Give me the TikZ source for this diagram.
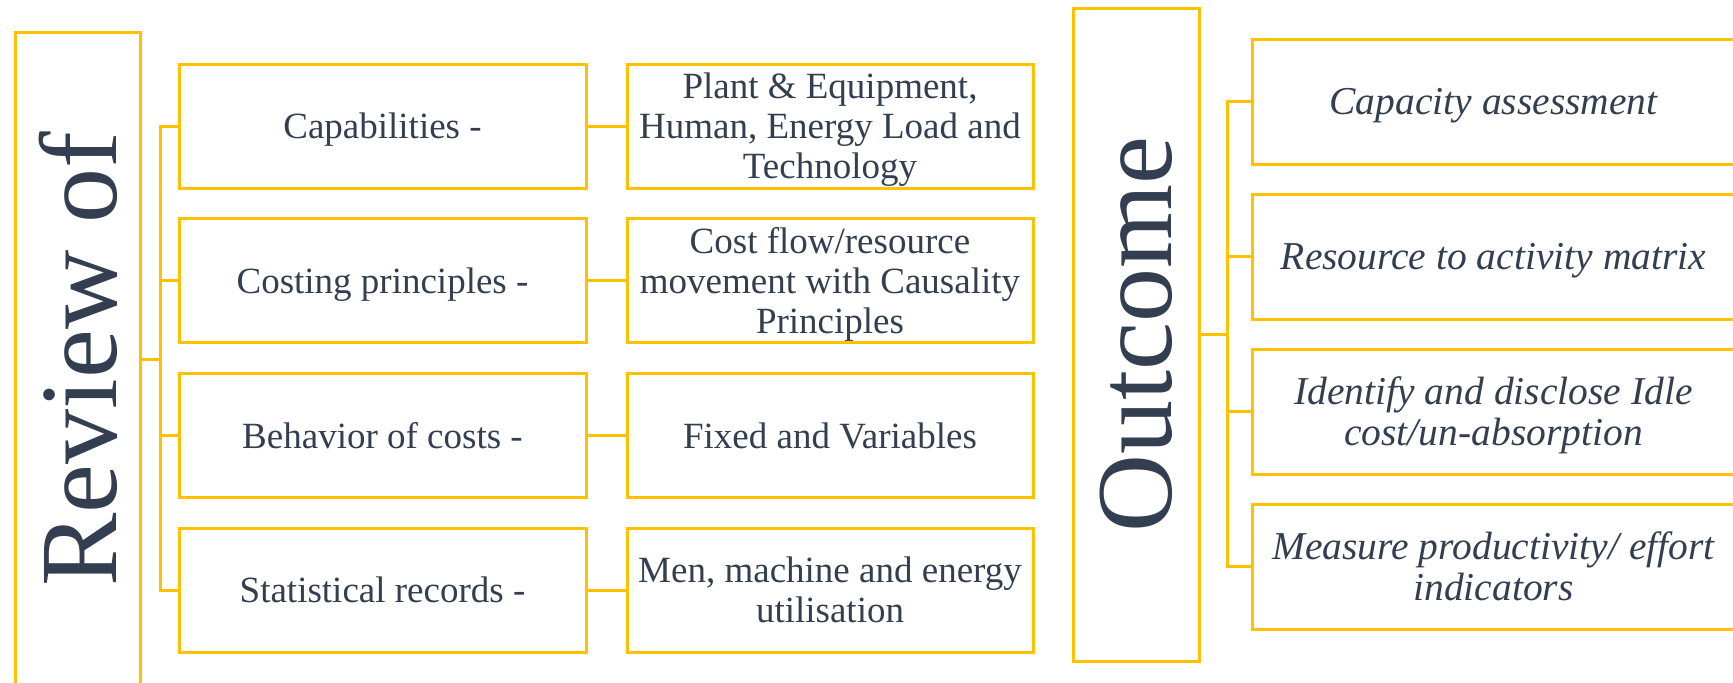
\documentclass[tikz,border=0pt]{standalone}
\usepackage{fontspec}
\setmainfont{Liberation Serif}
\newfontfamily\boxfont{Liberation Serif}
\usetikzlibrary{positioning}
\definecolor{gold}{HTML}{FFC000}
\definecolor{slate}{HTML}{333F50}
\tikzset{%
  every box/.style={
    rectangle,
    draw=gold,
    line width=3pt,
    text=slate,
    align=center,
    text depth=0pt,
    inner sep=0pt
  },
  side box/.style={
    rotate=90,
    minimum width=654pt,
    minimum height=125pt,
    font=\boxfont\fontsize{110}{120}\selectfont
  },
  item box/.style={
    minimum width=407pt,
    minimum height=124pt,
    font=\boxfont\fontsize{37}{40}\selectfont
  },
  result box/.style={
    minimum width=483pt,
    minimum height=125pt,
    font=\boxfont\fontsize{39.5}{41}\selectfont\itshape
  },
  link/.style={
    draw=gold,
    line width=3pt
  }
 }
\begin{document}
\begin{tikzpicture}[x=1pt, y=-1pt]

\useasboundingbox (0,0) rectangle (1733,683);
\clip (0,0) rectangle (1733,683);

\node [every box, side box] (review) at (78,359) {Review of};
\node [every box, side box, minimum width=653pt, minimum height=126pt, font=\boxfont\fontsize{108}{120}\selectfont] (outcome) at (1136,334.5) {Outcome};

\foreach \m [count=\y] in {Capabilities -, Costing principles -, Behavior of costs -, Statistical records -}
  \node [every box, item box] (item-\y) at (382.5, -28.7+154.7*\y) {\m};

\foreach \d [count=\y] in {{Plant \& Equipment,\\Human, Energy Load and\\Technology},
    {Cost flow/resource\\movement with Causality\\Principles},
    {Fixed and Variables},
    {Men, machine and energy\\utilisation}}
  {
  \node [every box, item box, minimum width=406pt, right=38pt of item-\y] (detail-\y) {\d};
  \draw [link] (item-\y) -- (detail-\y);
  }

\foreach \r [count=\y] in {{Capacity assessment}, {Resource to activity matrix},
    {Identify and disclose Idle\\cost/un-absorption}, {Measure productivity/ effort\\indicators}}
  \node [every box, result box] (result-\y) at (1493.5, -53.5+155*\y) {\r};

\coordinate (fork-l) at (160,359);
\draw [link] (review.south) -- (fork-l);
\foreach \i in {1,...,4}
  \draw [link] (fork-l) |- (item-\i);

\coordinate (fork-r) at (1227,334.5);
\draw [link] (outcome.south) -- (fork-r);
\foreach \i in {1,...,4}
  \draw [link] (fork-r) |- (result-\i);

\end{tikzpicture}
\end{document}
